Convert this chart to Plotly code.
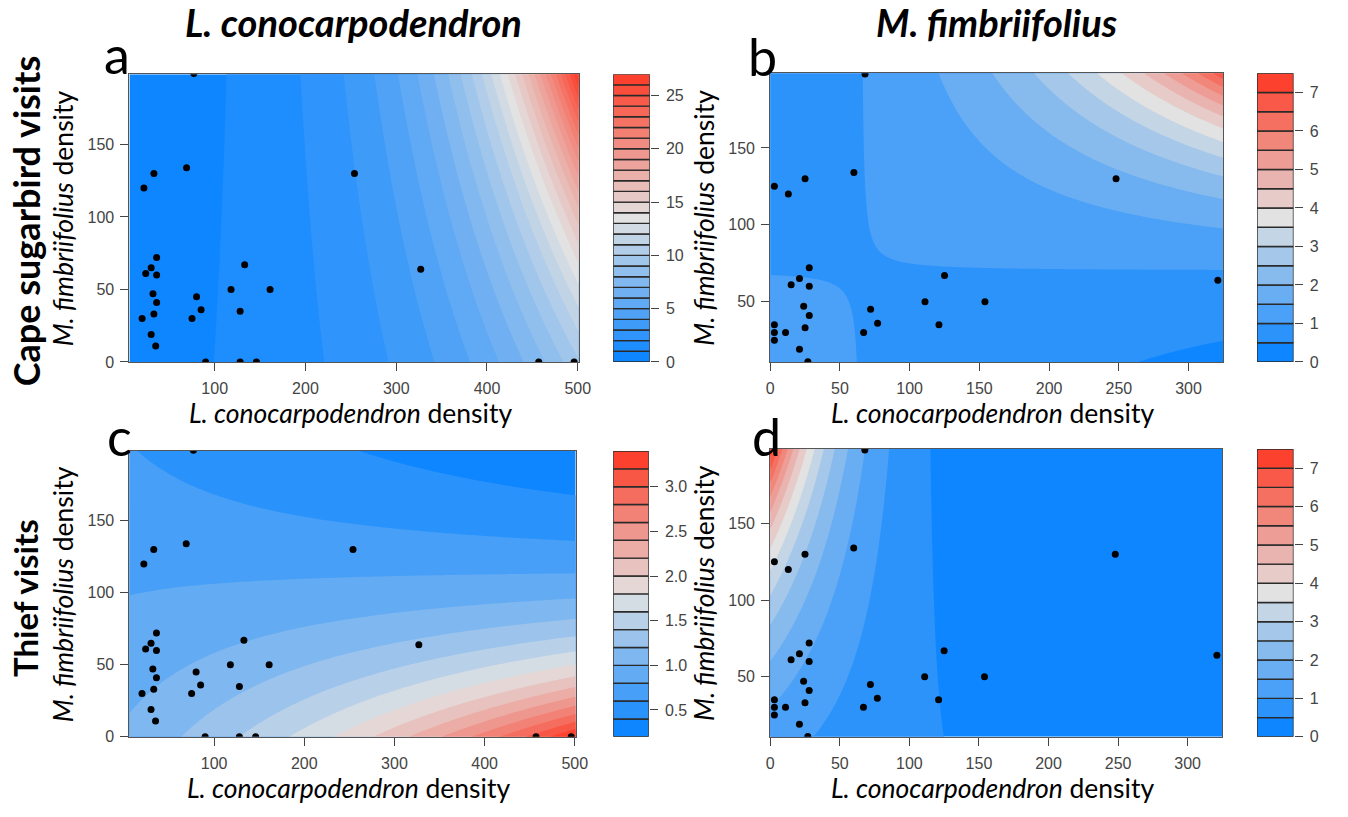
import numpy as np
import plotly.graph_objects as go

W, H = 1348, 817

# Survey plots: L. conocarpodendron (L) and M. fimbriifolius (M) densities
# plots used for the L. conocarpodendron models (panels a, c)
lc_L = [77, 69, 33, 22, 254, 36, 30, 24, 36, 32, 36, 33, 20, 30, 35,
        80, 75, 85, 90, 118, 128, 133, 161, 128, 146, 327, 457, 496]
lc_M = [199, 134, 130, 120, 130, 72, 65, 61, 60, 47, 41, 33, 30, 19, 11,
        45, 30, 36, 0, 50, 35, 67, 50, 0, 0, 64, 0, 0]
# plots used for the M. fimbriifolius models (panels b, d)
mf_L = [68, 60, 25, 3, 13, 248, 28, 21, 15, 28, 24, 28, 25, 3, 3, 11, 3, 21,
        27, 72, 67, 77, 111, 121, 125, 154, 321]
mf_M = [198, 134, 130, 125, 120, 130, 72, 65, 61, 60, 47, 41, 33, 35, 30, 30,
        25, 19, 11, 45, 30, 36, 50, 35, 67, 50, 64]

# Log-link model coefficients: intercept, L, M, L:M
coef_sugarbird_lc = [-0.564, 0.0057, -0.00201, 1.42e-5]
coef_sugarbird_mf = [0.254, -0.00406, -0.00377, 5.8e-5]
coef_thief_lc = [0.03, 0.0024, -0.0026, -2.04e-5]
coef_thief_mf = [0.127, -0.00647, 0.00943, -8.52e-5]

# Prediction extents
lc_L_range = [6, 501]
lc_M_range = [0, 198.5]
mf_L_range = [0, 325]
mf_M_range = [10.8, 198.6]

# Colour-key breaks: low, high, step
breaks_a = [0, 27, 1]
breaks_b = [0, 7.5, 0.5]
breaks_c = [0.2, 3.4, 0.2]
breaks_d = [0, 7.5, 0.5]

# Axis ticks
lc_L_ticks = [100, 200, 300, 400, 500]
lc_M_ticks = [0, 50, 100, 150]
mf_L_ticks = [0, 50, 100, 150, 200, 250, 300]
mf_M_ticks = [50, 100, 150]
key_ticks_a = [0, 5, 10, 15, 20, 25]
key_ticks_b = [0, 1, 2, 3, 4, 5, 6, 7]
key_ticks_c = [0.5, 1.0, 1.5, 2.0, 2.5, 3.0]
key_ticks_d = [0, 1, 2, 3, 4, 5, 6, 7]

BLUE = (14, 134, 255)
MID = (226, 226, 226)
RED = (252, 66, 46)


def ramp(n):
    out = []
    for j in range(n):
        t = j / (n - 1)
        if t <= 0.5:
            a, b, u = BLUE, MID, t / 0.5
        else:
            a, b, u = MID, RED, (t - 0.5) / 0.5
        c = [round(a[k] + (b[k] - a[k]) * u) for k in range(3)]
        out.append(f"rgb({c[0]},{c[1]},{c[2]})")
    return out


def px_x(p):
    return p / W


def px_y(p):
    return 1 - p / H


fig = go.Figure()

TICKFONT = dict(family="Liberation Sans, Arial, sans-serif", size=16, color="#444")
TXT = "Lato, Calibri, 'Open Sans', sans-serif"

# panel boxes in pixels: plot (x0, x1, y0, y1), key (x0, x1)
panels = [
    dict(name="a", coef=coef_sugarbird_lc, xr=lc_L_range, yr=lc_M_range, L=lc_L, M=lc_M,
         br=breaks_a, xt=lc_L_ticks, yt=lc_M_ticks, kt=key_ticks_a, kfmt="",
         box=(127, 582, 75, 366), key=(617, 654)),
    dict(name="b", coef=coef_sugarbird_mf, xr=mf_L_range, yr=mf_M_range, L=mf_L, M=mf_M,
         br=breaks_b, xt=mf_L_ticks, yt=mf_M_ticks, kt=key_ticks_b, kfmt="",
         box=(776, 1235, 74, 366), key=(1269, 1306)),
    dict(name="c", coef=coef_thief_lc, xr=lc_L_range, yr=lc_M_range, L=lc_L, M=lc_M,
         br=breaks_c, xt=lc_L_ticks, yt=lc_M_ticks, kt=key_ticks_c, kfmt=".1f",
         box=(127, 579, 456, 745), key=(617, 653)),
    dict(name="d", coef=coef_thief_mf, xr=mf_L_range, yr=mf_M_range, L=mf_L, M=mf_M,
         br=breaks_d, xt=mf_L_ticks, yt=mf_M_ticks, kt=key_ticks_d, kfmt="",
         box=(776, 1234, 454, 745), key=(1269, 1306)),
]

layout_axes = {}
for i, p in enumerate(panels):
    ax = i + 1
    kx = i + 5
    b0, bL, bM, bLM = p["coef"]
    gx = np.linspace(p["xr"][0], p["xr"][1], 260)
    gy = np.linspace(p["yr"][0], p["yr"][1], 220)
    X, Y = np.meshgrid(gx, gy)
    Z = np.exp(b0 + bL * X + bM * Y + bLM * X * Y)

    lo, hi, step = p["br"]
    n = int(round((hi - lo) / step))
    cols = ramp(n)
    nc = n - 1
    cscale = [[j / nc, cols[j]] for j in range(n)]

    fig.add_trace(go.Contour(
        x=gx, y=gy, z=Z, autocontour=False,
        contours=dict(start=lo + step, end=hi - step, size=step,
                      coloring="fill", showlines=False),
        line=dict(width=0), colorscale=cscale, showscale=False,
        hoverinfo="skip", xaxis=f"x{ax}", yaxis=f"y{ax}"))

    fig.add_trace(go.Scatter(
        x=p["L"], y=p["M"], mode="markers",
        marker=dict(color="black", size=7),
        xaxis=f"x{ax}", yaxis=f"y{ax}", showlegend=False, cliponaxis=True))

    # colour key as stacked bands
    fig.add_trace(go.Bar(
        x=[0] * n, y=[step] * n, base=[lo + j * step for j in range(n)],
        width=1, marker=dict(color=cols, line=dict(color="#2a2a2a", width=1.4)),
        xaxis=f"x{kx}", yaxis=f"y{kx}", showlegend=False, hoverinfo="skip"))

    x0, x1, y0, y1 = p["box"]
    k0, k1 = p["key"]
    common = dict(showgrid=False, zeroline=False, ticks="outside", ticklen=8,
                  tickcolor="#444", tickfont=TICKFONT)
    layout_axes[f"xaxis{ax}"] = dict(
        domain=[px_x(x0), px_x(x1)], range=p["xr"], anchor=f"y{ax}",
        tickvals=p["xt"], showline=True, mirror=True, linecolor="#555",
        linewidth=1, ticklabelstandoff=4, **common)
    layout_axes[f"yaxis{ax}"] = dict(
        domain=[px_y(y1), px_y(y0)], range=p["yr"], anchor=f"x{ax}",
        tickvals=p["yt"], showline=True, mirror=True, linecolor="#555",
        linewidth=1, ticklabelstandoff=3, **common)
    layout_axes[f"xaxis{kx}"] = dict(
        domain=[px_x(k0), px_x(k1)], range=[-0.5, 0.5], anchor=f"y{kx}",
        visible=False, fixedrange=True)
    layout_axes[f"yaxis{kx}"] = dict(
        domain=[px_y(y1), px_y(y0)], range=[lo, hi], anchor=f"x{kx}",
        side="right", tickvals=p["kt"], tickformat=p["kfmt"], showline=False,
        ticklabelstandoff=4, **common)

ann = []


def text(x, y, s, size, angle=0, xanchor="center", yanchor="middle"):
    ann.append(dict(x=px_x(x), y=px_y(y), xref="paper", yref="paper", text=s,
                    showarrow=False, textangle=angle, xanchor=xanchor,
                    yanchor=yanchor, font=dict(family=TXT, size=size, color="black")))


# column headings
text(354, 22, "<b><i>L. conocarpodendron</i></b>", 38)
text(1005, 22, "<b><i>M. fimbriifolius</i></b>", 38)
# row headings
text(22, 223, "<b>Cape sugarbird visits</b>", 36, angle=-90)
text(22, 605, "<b>Thief visits</b>", 33, angle=-90)
# panel letters
text(114, 55, "a", 52)
text(768, 57, "b", 52)
text(117, 441, "c", 52)
text(772, 441, "d", 52)
# axis titles
for p in panels:
    x0, x1, y0, y1 = p["box"]
    text((x0 + x1) / 2 - 4, y1 + 52, "<i>L. conocarpodendron</i> density", 26.5)
    text(x0 - 67, (y0 + y1) / 2, "<i>M. fimbriifolius</i> density", 26.5, angle=-90)

fig.update_layout(
    width=W, height=H, margin=dict(l=0, r=0, t=0, b=0),
    paper_bgcolor="white", plot_bgcolor="white", showlegend=False,
    annotations=ann, **layout_axes)

fig.write_html("out.html")
